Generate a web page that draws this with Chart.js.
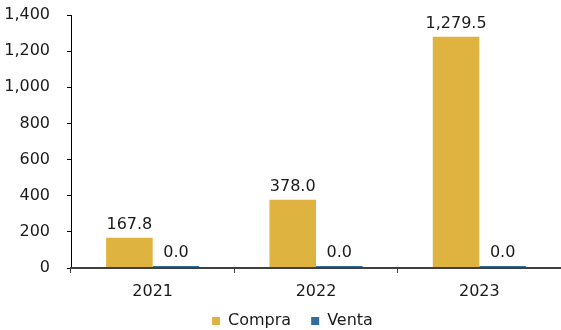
<!DOCTYPE html>
<html>
<head>
<meta charset="utf-8">
<script src="https://cdn.jsdelivr.net/npm/chart.js@4.4.1/dist/chart.umd.min.js"></script>
<style>
    html, body { margin: 0; padding: 0; background: #ffffff; }
    #wrap { width: 561px; height: 330px; position: relative; }
</style>
</head>
<body>
<div id="wrap"><canvas id="chartCompraVenta"></canvas></div>
<script>
// datos
const anios = ["2021", "2022", "2023"];
const compra = [167.8, 378.0, 1279.5];
const venta = [0.0, 0.04, 0.04];
const ticksY = [0, 200, 400, 600, 800, 1000, 1200, 1400];

const FONT = "'DejaVu Sans', Verdana, sans-serif";
const TXT = "#1a1a1a";

// etiquetas de valor encima de las barras
const valueLabels = {
    id: "valueLabels",
    afterDatasetsDraw(chart) {
        const ctx = chart.ctx;
        ctx.save();
        ctx.font = "16px " + FONT;
        ctx.fillStyle = TXT;
        ctx.textAlign = "center";
        ctx.textBaseline = "alphabetic";
        chart.data.datasets.forEach((ds, i) => {
            const meta = chart.getDatasetMeta(i);
            meta.data.forEach((bar, j) => {
                const v = ds.data[j];
                const txt = v.toLocaleString("en-US", { minimumFractionDigits: 1, maximumFractionDigits: 1 });
                ctx.fillText(txt, bar.x, Math.min(bar.y, bar.base - 2) - 9);
            });
        });
        ctx.restore();
    }
};

// mueve la leyenda un poco a la derecha y arriba, como en el original
const legendShift = {
    id: "legendShift",
    afterLayout(chart) {
        if (!chart.legend) return;
        chart.legend.left += 24;
        chart.legend.top -= 7;
    }
};

new Chart(document.getElementById("chartCompraVenta"), {
    type: "bar",
    data: {
        labels: anios,
        datasets: [
            {
                label: "Compra",
                data: compra,
                backgroundColor: "#DFB33F",
                barPercentage: 1,
                categoryPercentage: 0.57
            },
            {
                label: "Venta",
                data: venta,
                backgroundColor: "#2F6FA0",
                barPercentage: 1,
                categoryPercentage: 0.57,
                minBarLength: 2
            }
        ]
    },
    options: {
        responsive: true,
        maintainAspectRatio: false,
        animation: false,
        layout: { padding: { top: 15, right: 0, left: 0, bottom: 0 } },
        plugins: {
            legend: {
                display: true,
                position: "bottom",
                maxHeight: 30,
                labels: {
                    boxWidth: 8,
                    boxHeight: 8,
                    padding: 20,
                    color: TXT,
                    font: { family: FONT, size: 16 }
                }
            },
            tooltip: { enabled: false }
        },
        scales: {
            x: {
                afterFit: s => { s.height = 32; },
                grid: {
                    display: true,
                    drawOnChartArea: false,
                    drawTicks: true,
                    tickLength: 5,
                    tickColor: "#404040",
                    tickWidth: 1
                },
                border: { display: true, color: "#404040", width: 2, z: 1 },
                ticks: { color: TXT, font: { family: FONT, size: 16 }, padding: 9 }
            },
            y: {
                min: 0,
                max: 1400,
                afterBuildTicks: s => { s.ticks = ticksY.map(v => ({ value: v })); },
                afterFit: s => { s.width = 71; s.paddingTop = 0; s.paddingBottom = 0; },
                grid: {
                    display: true,
                    drawOnChartArea: false,
                    drawTicks: true,
                    tickLength: 4,
                    tickColor: "#000000"
                },
                border: { display: true, color: "#000000", width: 1 },
                ticks: {
                    color: TXT,
                    font: { family: FONT, size: 16 },
                    padding: 17,
                    callback: v => v.toLocaleString("en-US")
                }
            }
        }
    },
    plugins: [valueLabels, legendShift]
});
</script>
</body>
</html>
